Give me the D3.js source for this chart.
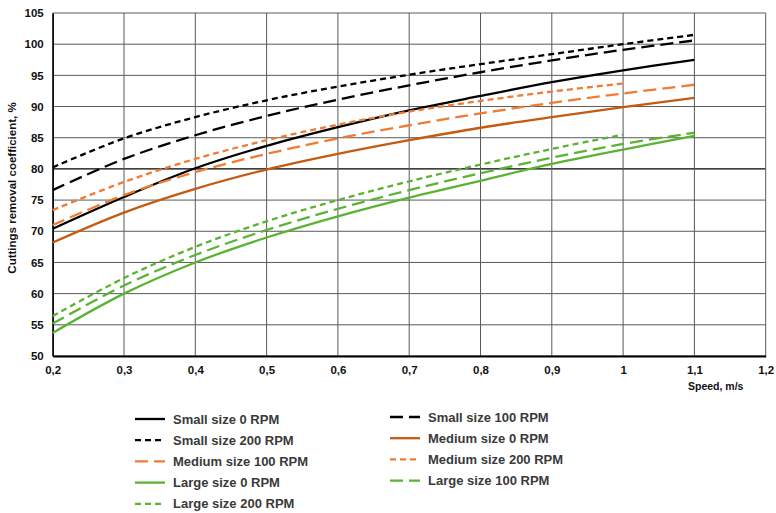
<!DOCTYPE html>
<html lang="en">
<head>
<meta charset="UTF-8">
<title>Cuttings removal coefficient vs speed</title>
<script src="https://d3js.org/d3.v7.min.js"></script>
<style>
    body, html { margin: 0; background: #fff; }
    svg { display: block; font-family: "Liberation Sans", Arial, sans-serif; }
</style>
</head>
<body>
<svg id="chart" width="776" height="513"></svg>
<script>
    // speeds, m/s
    var speeds = [0.2, 0.3, 0.4, 0.5, 0.6, 0.7, 0.8, 0.9, 1.0, 1.1];

    var small0   = [70.4, 75.5, 80.1, 83.7, 86.7, 89.4, 91.7, 93.9, 95.8, 97.5];
    var small100 = [76.6, 81.6, 85.4, 88.5, 91.1, 93.4, 95.5, 97.4, 99.1, 100.6];
    var small200 = [80.25, 84.9, 88.3, 91.0, 93.2, 95.1, 96.8, 98.4, 100.0, 101.5];
    var medium0   = [68.2, 73.0, 76.8, 79.9, 82.4, 84.6, 86.6, 88.3, 89.9, 91.4];
    var medium100 = [71.0, 75.8, 79.5, 82.4, 84.9, 87.0, 88.9, 90.6, 92.1, 93.5];
    var medium200 = [73.4, 77.9, 81.6, 84.6, 87.1, 89.2, 90.9, 92.4, 93.7];
    var large0   = [53.7, 60.0, 65.0, 69.0, 72.4, 75.4, 78.1, 80.8, 83.1, 85.3];
    var large100 = [55.2, 61.3, 66.2, 70.2, 73.6, 76.6, 79.3, 81.8, 84.0, 85.8];
    var large200 = [56.4, 62.5, 67.5, 71.6, 75.0, 78.0, 80.7, 83.2, 85.5];

    var xTicks = [0.2, 0.3, 0.4, 0.5, 0.6, 0.7, 0.8, 0.9, 1, 1.1, 1.2];
    var yTicks = [50, 55, 60, 65, 70, 75, 80, 85, 90, 95, 100, 105];

    var black = "#000", orangeDark = "#c55a11", orange = "#f07b33", green = "#5ab332";
    var solid = null, longDash = "13,6", shortDash = "6,4";

    var series = [
        { name: "Small size 0 RPM",    values: small0,    color: black,      dash: solid },
        { name: "Small size 100 RPM",  values: small100,  color: black,      dash: longDash },
        { name: "Small size 200 RPM",  values: small200,  color: black,      dash: shortDash },
        { name: "Medium size 0 RPM",   values: medium0,   color: orangeDark, dash: solid },
        { name: "Medium size 100 RPM", values: medium100, color: orange,     dash: longDash },
        { name: "Medium size 200 RPM", values: medium200, color: orange,     dash: shortDash },
        { name: "Large size 0 RPM",    values: large0,    color: green,      dash: solid },
        { name: "Large size 100 RPM",  values: large100,  color: green,      dash: longDash },
        { name: "Large size 200 RPM",  values: large200,  color: green,      dash: shortDash }
    ];

    drawChart();

    function drawChart() {
        var svg = d3.select("#chart");
        var mLeft = 52.7, mRight = 765.7, mTop = 13, mBottom = 356;

        var x = d3.scaleLinear().domain([0.2, 1.2]).range([mLeft, mRight]);
        var y = d3.scaleLinear().domain([50, 105]).range([mBottom, mTop]);

        var fmt = function (d) { return String(d).replace(".", ","); };

        // grid
        svg.append("g").selectAll("line").data(yTicks).enter().append("line")
            .attr("x1", mLeft).attr("x2", mRight)
            .attr("y1", d => y(d)).attr("y2", d => y(d))
            .attr("stroke", d => d === 80 ? "#000" : "#5a5a5a")
            .attr("stroke-width", d => d === 80 ? 1.4 : 1);
        svg.append("g").selectAll("line").data(xTicks).enter().append("line")
            .attr("x1", d => x(d)).attr("x2", d => x(d))
            .attr("y1", mTop).attr("y2", mBottom)
            .attr("stroke", "#5a5a5a").attr("stroke-width", 1);

        // axes
        var xAxis = svg.append("g").attr("transform", "translate(0," + mBottom + ")")
            .call(d3.axisBottom(x).tickValues(xTicks).tickFormat(fmt).tickSize(0).tickPadding(10));
        xAxis.select(".domain").attr("stroke", "#000").attr("stroke-width", 2.2);
        var yAxis = svg.append("g").attr("transform", "translate(" + mLeft + ",0)")
            .call(d3.axisLeft(y).tickValues(yTicks).tickSize(0).tickPadding(9));
        yAxis.select(".domain").attr("stroke", "#000").attr("stroke-width", 1.5);
        svg.selectAll(".tick text").attr("font-size", 11.5).attr("font-weight", "bold")
            .attr("fill", "#111").attr("font-family", "'Liberation Sans', Arial, sans-serif");

        // lines
        var line = d3.line()
            .x((d, i) => x(speeds[i]))
            .y(d => y(d))
            .curve(d3.curveCatmullRom.alpha(0.5));

        svg.append("g").selectAll("path").data(series).enter().append("path")
            .attr("d", d => line(d.values))
            .attr("fill", "none")
            .attr("stroke", d => d.color)
            .attr("stroke-width", 2.3)
            .attr("stroke-dasharray", d => d.dash);

        // axis titles
        svg.append("text")
            .attr("transform", "translate(16,188) rotate(-90)")
            .attr("text-anchor", "middle")
            .attr("font-size", 11.5).attr("font-weight", "bold").attr("fill", "#111")
            .text("Cuttings removal coefficient, %");
        svg.append("text")
            .attr("x", 688).attr("y", 390)
            .attr("font-size", 10.5).attr("font-weight", "bold").attr("fill", "#111")
            .text("Speed, m/s");

        // legend (two columns, filled row by row)
        var legend = svg.append("g").selectAll("g").data(series).enter().append("g")
            .attr("transform", function (d, i) {
                var col = i % 2, row = Math.floor(i / 2);
                return "translate(" + (col ? 390 : 135) + "," + ((col ? 417 : 419) + row * 21.2) + ")";
            });
        legend.append("line")
            .attr("x1", 0).attr("x2", 30)
            .attr("stroke", d => d.color)
            .attr("stroke-width", 2.3)
            .attr("stroke-dasharray", d => d.dash);
        legend.append("text")
            .attr("x", 38).attr("dy", "0.35em")
            .attr("font-size", 13).attr("font-weight", "bold").attr("fill", "#3a3a3a")
            .text(d => d.name);
    }
</script>
</body>
</html>
